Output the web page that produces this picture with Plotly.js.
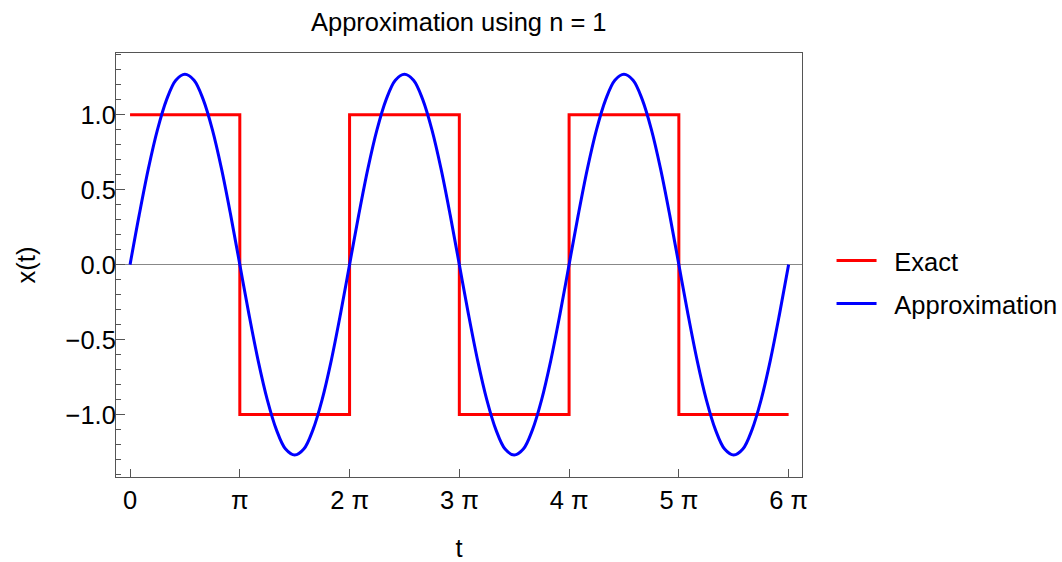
<!DOCTYPE html>
<html>
<head>
<meta charset="utf-8">
<script src="https://cdn.plot.ly/plotly-3.0.1.min.js"></script>
<style>
  html, body { margin: 0; padding: 0; background: #fff; }
  #plot { width: 1062px; height: 562px; }
</style>
</head>
<body>
<div id="plot"></div>
<script>
// t is given in multiples of pi
// exact square wave (corners of the step function)
var exactT = [0, 1, 1, 2, 2, 3, 3, 4, 4, 5, 5, 6];
var exactX = [1, 1, -1, -1, 1, 1, -1, -1, 1, 1, -1, -1];

// approximation, every pi/12
var approxT = [0, 0.083, 0.167, 0.25, 0.333, 0.417, 0.5, 0.583, 0.667, 0.75, 0.833, 0.917,
               1, 1.083, 1.167, 1.25, 1.333, 1.417, 1.5, 1.583, 1.667, 1.75, 1.833, 1.917,
               2, 2.083, 2.167, 2.25, 2.333, 2.417, 2.5, 2.583, 2.667, 2.75, 2.833, 2.917,
               3, 3.083, 3.167, 3.25, 3.333, 3.417, 3.5, 3.583, 3.667, 3.75, 3.833, 3.917,
               4, 4.083, 4.167, 4.25, 4.333, 4.417, 4.5, 4.583, 4.667, 4.75, 4.833, 4.917,
               5, 5.083, 5.167, 5.25, 5.333, 5.417, 5.5, 5.583, 5.667, 5.75, 5.833, 5.917, 6];
var approxX = [0, 0.33, 0.64, 0.90, 1.10, 1.23, 1.27, 1.23, 1.10, 0.90, 0.64, 0.33,
               0, -0.33, -0.64, -0.90, -1.10, -1.23, -1.27, -1.23, -1.10, -0.90, -0.64, -0.33,
               0, 0.33, 0.64, 0.90, 1.10, 1.23, 1.27, 1.23, 1.10, 0.90, 0.64, 0.33,
               0, -0.33, -0.64, -0.90, -1.10, -1.23, -1.27, -1.23, -1.10, -0.90, -0.64, -0.33,
               0, 0.33, 0.64, 0.90, 1.10, 1.23, 1.27, 1.23, 1.10, 0.90, 0.64, 0.33,
               0, -0.33, -0.64, -0.90, -1.10, -1.23, -1.27, -1.23, -1.10, -0.90, -0.64, -0.33, 0];

var tickVals = [0, 1, 2, 3, 4, 5, 6];
var tickText = ["0", "\u03c0", "2 \u03c0", "3 \u03c0", "4 \u03c0", "5 \u03c0", "6 \u03c0"];

var font = "Liberation Sans, Arial, sans-serif";
var fontSize = 25.5;
var frameColor = "#555";

var exact = {
    x: exactT,
    y: exactX,
    name: "\u2002Exact",
    mode: "lines",
    line: {color: "#ff0000", width: 3},
    legend: "legend"
};
var approx = {
    x: approxT,
    y: approxX,
    name: "\u2002Approximation",
    mode: "lines",
    line: {color: "#0000ff", width: 3, shape: "spline", smoothing: 1},
    legend: "legend2"
};

var legendBase = {
    xref: "container", yref: "container",
    xanchor: "left", yanchor: "middle",
    font: {family: font, size: fontSize, color: "#000"},
    bgcolor: "rgba(0,0,0,0)",
    itemwidth: 40
};

var layout = {
    width: 1062,
    height: 562,
    margin: {l: 116, r: 260, t: 53, b: 85},
    paper_bgcolor: "#fff",
    plot_bgcolor: "#fff",
    font: {family: font, size: fontSize, color: "#000"},
    title: {
        text: "Approximation using n = 1",
        font: {family: font, size: fontSize, color: "#000"},
        x: 0.432, xanchor: "center",
        y: 0.96, yanchor: "middle"
    },
    xaxis: {
        range: [-0.128, 6.122],
        tickvals: tickVals,
        ticktext: tickText,
        ticks: "inside",
        ticklen: 8,
        tickcolor: frameColor,
        showgrid: false,
        zeroline: false,
        showline: true,
        linecolor: frameColor,
        linewidth: 1,
        mirror: true,
        tickfont: {family: font, size: fontSize, color: "#000"},
        title: {text: "t", font: {family: font, size: fontSize, color: "#000"}, standoff: 28}
    },
    yaxis: {
        range: [-1.416, 1.411],
        tick0: 0,
        dtick: 0.5,
        tickformat: ".1f",
        ticks: "inside",
        ticklen: 9,
        tickcolor: frameColor,
        ticklabelstandoff: -6,
        minor: {dtick: 0.1, ticks: "inside", ticklen: 5, tickcolor: frameColor, showgrid: false},
        showgrid: false,
        zeroline: true,
        zerolinecolor: "#888",
        zerolinewidth: 1,
        showline: true,
        linecolor: frameColor,
        linewidth: 1,
        mirror: true,
        tickfont: {family: font, size: fontSize, color: "#000"},
        title: {text: "x(t)", font: {family: font, size: fontSize, color: "#000"}, standoff: 22}
    },
    showlegend: true,
    legend: Object.assign({}, legendBase, {x: 0.783, y: 1 - 261 / 562}),
    legend2: Object.assign({}, legendBase, {x: 0.783, y: 1 - 304 / 562})
};

Plotly.newPlot("plot", [exact, approx], layout, {displayModeBar: false, staticPlot: true});
</script>
</body>
</html>
